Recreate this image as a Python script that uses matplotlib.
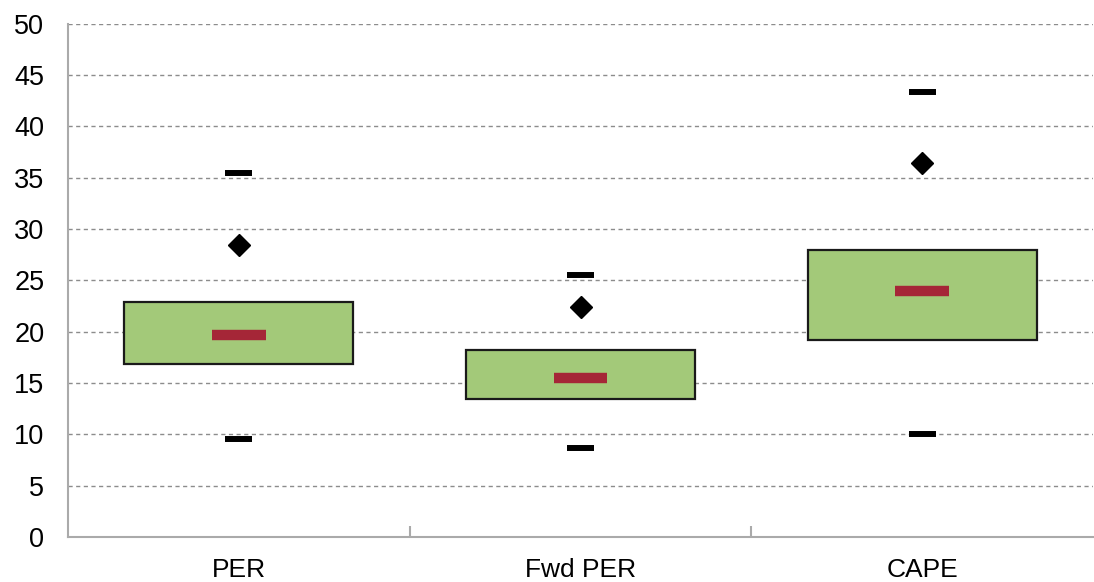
import numpy as np
import matplotlib.pyplot as plt
from matplotlib.ticker import FixedLocator, NullFormatter

plt.rcParams['font.family'] = ['Liberation Sans', 'DejaVu Sans']

# valuation ranges per metric
labels = ['PER', 'Fwd PER', 'CAPE']
box_low = [16.8, 13.4, 19.2]
box_high = [22.9, 18.2, 27.95]
median = [19.7, 15.45, 24.0]
current = [28.4, 22.4, 36.4]
hist_max = [35.4, 25.5, 43.3]
hist_min = [9.5, 8.65, 10.0]

fig = plt.figure(figsize=(10.94, 5.82), dpi=100)
ax = fig.add_axes([68 / 1094, 45 / 582, 1025 / 1094, 513.5 / 582])

x = np.arange(len(labels))
ax.bar(x, np.array(box_high) - np.array(box_low), bottom=box_low, width=0.67,
       color='#a3c979', edgecolor='#1a1a1a', linewidth=1.6, zorder=3)
ax.hlines(median, x - 0.079, x + 0.079, color='#a52637', linewidth=7.5, zorder=4)
ax.hlines(hist_max, x - 0.04, x + 0.04, color='black', linewidth=4.3, zorder=4)
ax.hlines(hist_min, x - 0.04, x + 0.04, color='black', linewidth=4.3, zorder=4)
ax.plot(x, current, linestyle='None', marker='D', markersize=11,
        color='black', zorder=5)

ax.set_xlim(-0.5, 2.5)
ax.set_ylim(0, 50)
ax.set_yticks(np.arange(0, 51, 5))
ax.yaxis.grid(True, linestyle=(0, (3, 2.5)), color='#8c8c8c', linewidth=1)
ax.set_axisbelow(True)
ax.tick_params(axis='y', length=0, labelsize=19.5, pad=17)

# category labels centred, tick marks on the boundaries
ax.xaxis.set_major_locator(FixedLocator([0.5, 1.5]))
ax.xaxis.set_major_formatter(NullFormatter())
ax.xaxis.set_minor_locator(FixedLocator(x))
ax.set_xticklabels(labels, minor=True)
ax.tick_params(axis='x', which='major', direction='in', length=8,
               width=1.5, color='#aaaaaa')
ax.tick_params(axis='x', which='minor', length=0, labelsize=19, pad=15)

for side in ['top', 'right']:
    ax.spines[side].set_visible(False)
for side in ['left', 'bottom']:
    ax.spines[side].set_color('#aaaaaa')
    ax.spines[side].set_linewidth(1.5)

fig.savefig('out.png', dpi=100)
